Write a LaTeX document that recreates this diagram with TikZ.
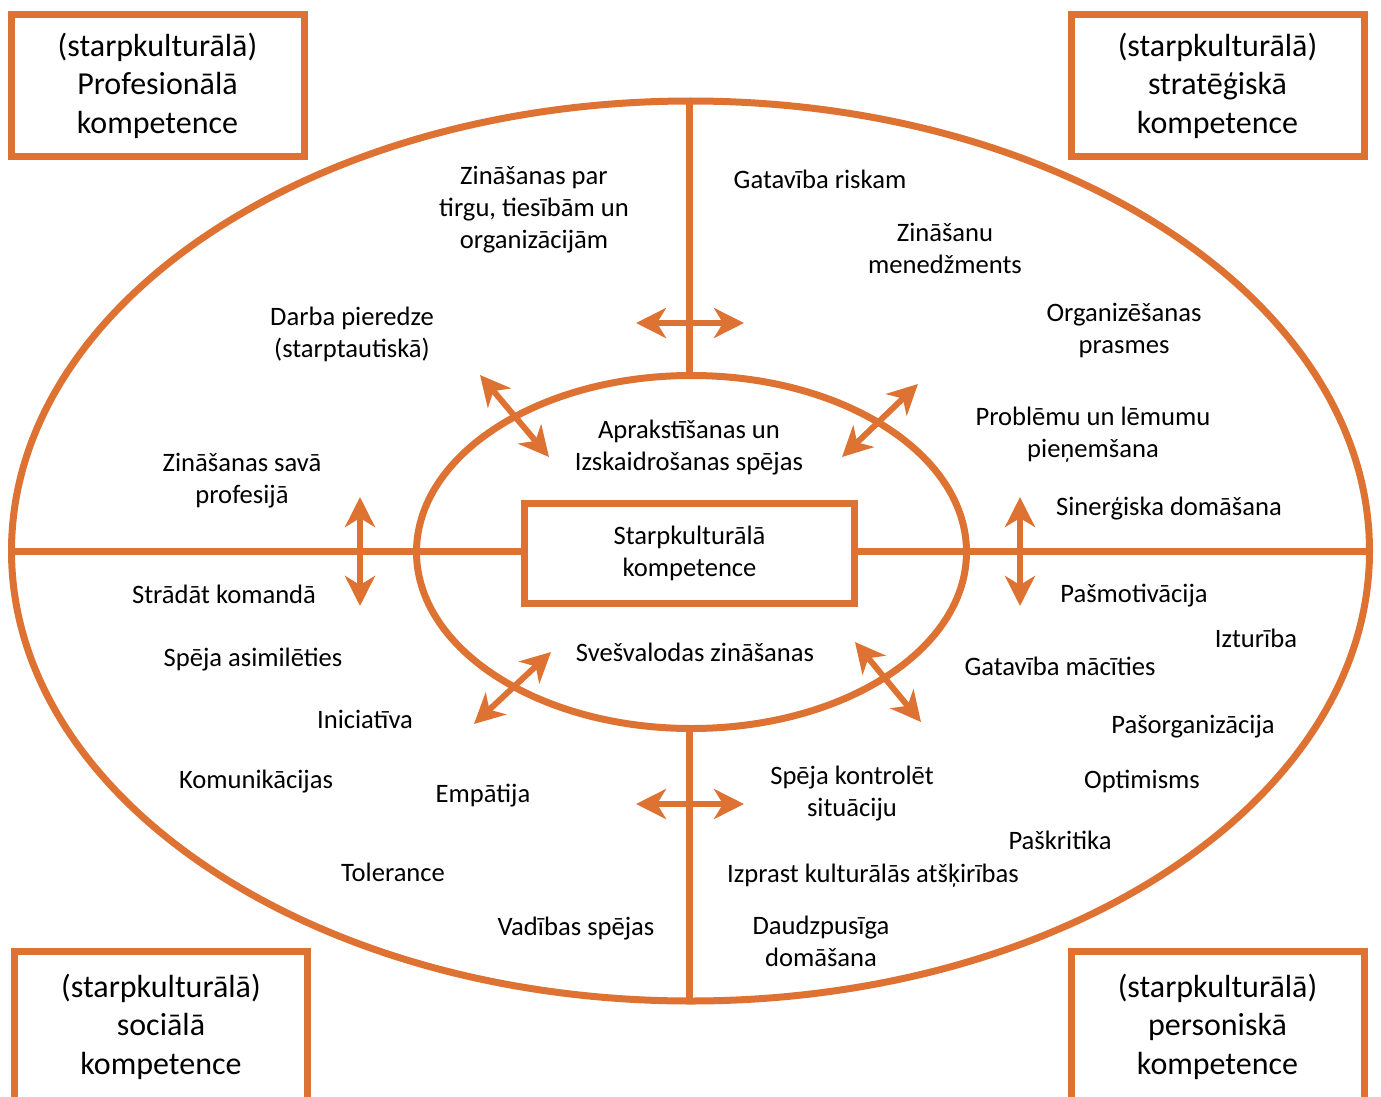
\documentclass[tikz,border=0pt]{standalone}
\usepackage{fontspec}
\setmainfont{Carlito}
\usetikzlibrary{arrows.meta}
\definecolor{rim}{RGB}{222,114,50}
\tikzset{
  x=1pt, y=-1pt,
  rimline/.style={draw=rim, line width=7pt},
  lbl/.style={align=center, font=\fontsize{26.6}{32}\selectfont, inner sep=0pt},
  cornerbox/.style={draw=rim, line width=7pt, align=center,
    minimum width=293pt, minimum height=142pt, inner sep=0pt,
    font=\fontsize{32}{38.5}\selectfont},
  corebox/.style={draw=rim, line width=7pt, align=center,
    minimum width=330pt, minimum height=100pt, inner sep=0pt, fill=white,
    font=\fontsize{26.6}{32}\selectfont},
  link/.style={draw=rim, line width=6pt,
    {Stealth[length=30pt, width=30pt, inset=9pt]}-{Stealth[length=30pt, width=30pt, inset=9pt]}},
}
\begin{document}
\begin{tikzpicture}
\useasboundingbox (0,0) rectangle (1381,1097);

% outer and inner ellipses
\draw[rimline] (690.5,551) ellipse [x radius=679, y radius=450];
\draw[rimline] (691.5,552) ellipse [x radius=275, y radius=176.5];

% central box
\node[corebox] (core) at (689.5,553.5) {Starpkulturālā\\kompetence};

% axes
\coordinate (wEnd) at (11.5,551);
\coordinate (eEnd) at (1369.5,551);
\coordinate (nEnd) at (689.5,101.5);
\coordinate (nIn) at (689.5,375.5);
\coordinate (sEnd) at (689.5,1001.5);
\coordinate (sIn) at (689.5,728.5);
\draw[rimline] (wEnd) -- (core.west |- wEnd);
\draw[rimline] (core.east |- eEnd) -- (eEnd);
\draw[rimline] (nEnd) -- (nIn);
\draw[rimline] (sIn) -- (sEnd);

% two-way arrows
\coordinate (a1) at (636,323);  \coordinate (b1) at (744,323);
\coordinate (a2) at (636,804);  \coordinate (b2) at (744,804);
\coordinate (a3) at (360,497);  \coordinate (b3) at (360,606);
\coordinate (a4) at (1020,497); \coordinate (b4) at (1020,606);
\coordinate (a5) at (480,375);  \coordinate (b5) at (549,457);
\coordinate (a6) at (918,384);  \coordinate (b6) at (842,457);
\coordinate (a7) at (551,652);  \coordinate (b7) at (474,724);
\coordinate (a8) at (855,642);  \coordinate (b8) at (921,722);
\foreach \i in {1,...,8} \draw[link] (a\i) -- (b\i);

% corner boxes (the lower ones run past the bottom edge)
\node[cornerbox] (prof) at (157.5,85.5) {(starpkulturālā)\\Profesionālā\\kompetence};
\node[cornerbox] (strat) at (1217.5,85.5) {(starpkulturālā)\\stratēģiskā\\kompetence};
\node[cornerbox, minimum height=150pt] (soc) at (161,1026.5) {(starpkulturālā)\\sociālā\\kompetence};
\node[cornerbox, minimum height=150pt] (pers) at (1217.5,1026.5) {(starpkulturālā)\\personiskā\\kompetence};

% labels
\node[lbl] (t1) at (534,210) {Zināšanas par\\tirgu, tiesībām un\\organizācijām};
\node[lbl] (t2) at (820,179) {Gatavība riskam};
\node[lbl] (t3) at (945,248) {Zināšanu\\menedžments};
\node[lbl] (t4) at (1124,330) {Organizēšanas\\prasmes};
\node[lbl] (t5) at (352,334) {Darba pieredze\\(starptautiskā)};
\node[lbl] (t6) at (1093,435) {Problēmu un lēmumu\\pieņemšana};
\node[lbl] (t7) at (689,448) {Aprakstīšanas un\\Izskaidrošanas spējas};
\node[lbl] (t8) at (242,481) {Zināšanas savā\\profesijā};
\node[lbl] (t9) at (1169,509) {Sinerģiska domāšana};
\node[lbl] (t10) at (224,594) {Strādāt komandā};
\node[lbl] (t11) at (1134,596) {Pašmotivācija};
\node[lbl] (t12) at (1256,638) {Izturība};
\node[lbl] (t13) at (695,652) {Svešvalodas zināšanas};
\node[lbl] (t14) at (253,660) {Spēja asimilēties};
\node[lbl] (t15) at (1060,666) {Gatavība mācīties};
\node[lbl] (t16) at (365,719) {Iniciatīva};
\node[lbl] (t17) at (1193,727) {Pašorganizācija};
\node[lbl] (t18) at (256,782) {Komunikācijas};
\node[lbl] (t19) at (852,794) {Spēja kontrolēt\\situāciju};
\node[lbl] (t20) at (1142,781) {Optimisms};
\node[lbl] (t21) at (483,796) {Empātija};
\node[lbl] (t22) at (1060,840) {Paškritika};
\node[lbl] (t23) at (393,872) {Tolerance};
\node[lbl] (t24) at (873,876) {Izprast kulturālās atšķirības};
\node[lbl] (t25) at (821,941) {Daudzpusīga\\domāšana};
\node[lbl] (t26) at (576,929) {Vadības spējas};
\end{tikzpicture}
\end{document}
